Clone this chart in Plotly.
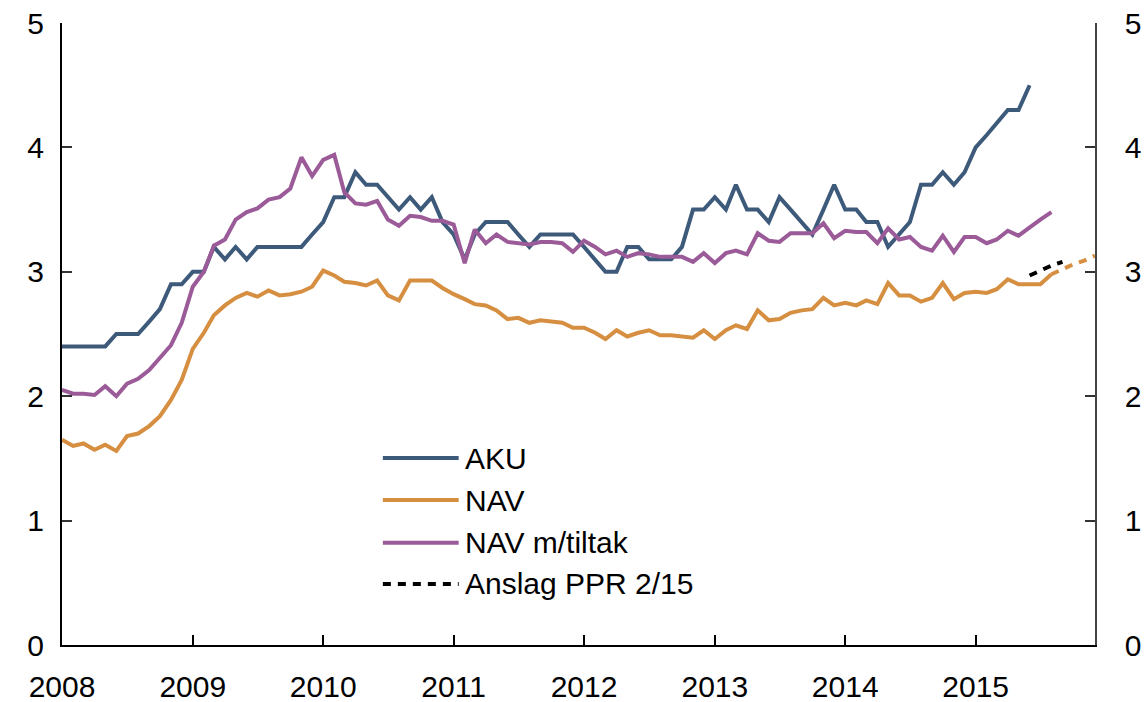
import plotly.graph_objects as go
import pandas as pd

# ---------------- data ----------------
months = pd.date_range("2008-01-01", "2015-12-01", freq="MS")

aku = [2.4, 2.4, 2.4, 2.4, 2.4, 2.5, 2.5, 2.5, 2.6, 2.7, 2.9, 2.9,
       3.0, 3.0, 3.2, 3.1, 3.2, 3.1, 3.2, 3.2, 3.2, 3.2, 3.2, 3.3,
       3.4, 3.6, 3.6, 3.8, 3.7, 3.7, 3.6, 3.5, 3.6, 3.5, 3.6, 3.4,
       3.3, 3.1, 3.3, 3.4, 3.4, 3.4, 3.3, 3.2, 3.3, 3.3, 3.3, 3.3,
       3.2, 3.1, 3.0, 3.0, 3.2, 3.2, 3.1, 3.1, 3.1, 3.2, 3.5, 3.5,
       3.6, 3.5, 3.7, 3.5, 3.5, 3.4, 3.6, 3.5, 3.4, 3.3, 3.5, 3.7,
       3.5, 3.5, 3.4, 3.4, 3.2, 3.3, 3.4, 3.7, 3.7, 3.8, 3.7, 3.8,
       4.0, 4.1, 4.2, 4.3, 4.3, 4.5]

nav = [1.65, 1.60, 1.62, 1.57, 1.61, 1.56, 1.68, 1.70, 1.76, 1.84, 1.97, 2.13,
       2.38, 2.51, 2.65, 2.73, 2.79, 2.83, 2.80, 2.85, 2.81, 2.82, 2.84, 2.88,
       3.01, 2.97, 2.92, 2.91, 2.89, 2.93, 2.81, 2.77, 2.93, 2.93, 2.93, 2.87,
       2.82, 2.78, 2.74, 2.73, 2.69, 2.62, 2.63, 2.59, 2.61, 2.60, 2.59, 2.55,
       2.55, 2.51, 2.46, 2.53, 2.48, 2.51, 2.53, 2.49, 2.49, 2.48, 2.47, 2.53,
       2.46, 2.53, 2.57, 2.54, 2.69, 2.61, 2.62, 2.67, 2.69, 2.70, 2.79, 2.73,
       2.75, 2.73, 2.77, 2.74, 2.91, 2.81, 2.81, 2.76, 2.79, 2.91, 2.78, 2.83,
       2.84, 2.83, 2.86, 2.94, 2.90, 2.90, 2.90, 2.98]

nav_tiltak = [2.05, 2.02, 2.02, 2.01, 2.08, 2.00, 2.10, 2.14, 2.21, 2.31, 2.41, 2.59,
              2.88, 3.00, 3.21, 3.26, 3.42, 3.48, 3.51, 3.58, 3.60, 3.67, 3.92, 3.77,
              3.90, 3.94, 3.64, 3.55, 3.54, 3.57, 3.42, 3.37, 3.45, 3.44, 3.41, 3.41,
              3.38, 3.07, 3.34, 3.23, 3.30, 3.24, 3.23, 3.22, 3.24, 3.24, 3.23, 3.16,
              3.25, 3.20, 3.14, 3.17, 3.12, 3.15, 3.14, 3.12, 3.12, 3.12, 3.08, 3.15,
              3.07, 3.15, 3.17, 3.14, 3.31, 3.25, 3.24, 3.31, 3.31, 3.31, 3.39, 3.27,
              3.33, 3.32, 3.32, 3.23, 3.35, 3.26, 3.28, 3.20, 3.17, 3.29, 3.16, 3.28,
              3.28, 3.23, 3.26, 3.33, 3.29, 3.36, 3.42, 3.48]

# NAV projection continuing the NAV series (Aug 2015 - Dec 2015)
nav_proj_start = 91
nav_proj = [2.98, 3.02, 3.06, 3.09, 3.13]

# Anslag PPR 2/15 (Jun 2015 - Sep 2015)
ppr_start = 89
ppr = [2.97, 3.01, 3.05, 3.08]

series_names = ["AKU", "NAV", "NAV m/tiltak", "Anslag PPR 2/15"]
series_colors = ["#3E5A7B", "#D68E40", "#9B5A98", "#000000"]

year_ticks = [f"{y}-01-01" for y in range(2008, 2016)]
year_labels = [str(y) for y in range(2008, 2016)]
y_ticks = [0, 1, 2, 3, 4, 5]

FONT = "Liberation Sans, Arial, Helvetica, sans-serif"
DASH = "8px,7px"
LW = 4

fig = go.Figure()
fig.add_trace(go.Scatter(x=months[:len(aku)], y=aku, mode="lines", name=series_names[0],
                         line=dict(color=series_colors[0], width=LW), showlegend=False))
fig.add_trace(go.Scatter(x=months[:len(nav)], y=nav, mode="lines", name=series_names[1],
                         line=dict(color=series_colors[1], width=LW), showlegend=False))
fig.add_trace(go.Scatter(x=months[:len(nav_tiltak)], y=nav_tiltak, mode="lines", name=series_names[2],
                         line=dict(color=series_colors[2], width=LW), showlegend=False))
fig.add_trace(go.Scatter(x=months[nav_proj_start:nav_proj_start + len(nav_proj)], y=nav_proj,
                         mode="lines", name="NAV anslag",
                         line=dict(color=series_colors[1], width=LW, dash=DASH), showlegend=False))
fig.add_trace(go.Scatter(x=months[ppr_start:ppr_start + len(ppr)], y=ppr, mode="lines",
                         name=series_names[3], yaxis="y2",
                         line=dict(color=series_colors[3], width=LW, dash=DASH), showlegend=False))

# manual legend (long line samples, as in the reference)
leg_x0, leg_x1, leg_tx = 0.3106, 0.384, 0.388
leg_rows = [0.3006, 0.2331, 0.1645, 0.0981]
leg_dash = ["solid", "solid", "solid", "dash"]
shapes = []
annotations = []
for name, col, yy, dsh in zip(series_names, series_colors, leg_rows, leg_dash):
    shapes.append(dict(type="line", xref="paper", yref="paper", x0=leg_x0, x1=leg_x1,
                       y0=yy, y1=yy, line=dict(color=col, width=4,
                                               dash=DASH if dsh == "dash" else "solid")))
    annotations.append(dict(xref="paper", yref="paper", x=leg_tx, y=yy, text=name,
                            showarrow=False, xanchor="left", yanchor="middle",
                            font=dict(family=FONT, size=30, color="#000000")))

fig.update_layout(
    width=1148, height=702,
    margin=dict(l=62, r=53, t=23, b=57, autoexpand=False),
    paper_bgcolor="white", plot_bgcolor="white",
    font=dict(family=FONT, size=30, color="#000000"),
    shapes=shapes, annotations=annotations,
    showlegend=False,
    xaxis=dict(type="date", range=["2008-01-01", "2015-12-01"],
               tickvals=year_ticks, ticktext=year_labels, automargin=False,
               ticks="inside", ticklen=10, tickwidth=1.5, tickcolor="#000000",
               showline=True, linecolor="#000000", linewidth=2,
               showgrid=False, zeroline=False,
               tickfont=dict(family=FONT, size=30, color="#000000"),
               ticklabelstandoff=14),
    yaxis=dict(range=[0, 5], tickvals=y_ticks, automargin=False,
               ticks="inside", ticklen=10, tickwidth=1.5, tickcolor="#333333",
               showline=True, linecolor="#000000", linewidth=2,
               showgrid=False, zeroline=False,
               tickfont=dict(family=FONT, size=30, color="#000000"),
               ticklabelstandoff=10),
    yaxis2=dict(range=[0, 5], tickvals=y_ticks, overlaying="y", side="right", automargin=False,
                ticks="inside", ticklen=10, tickwidth=1.5, tickcolor="#333333",
                showline=True, linecolor="#444444", linewidth=1.5,
                showgrid=False, zeroline=False,
                tickfont=dict(family=FONT, size=30, color="#000000"),
                ticklabelstandoff=22),
)

fig.write_html("out.html", config={"displayModeBar": False},
               post_script="document.body.style.margin='0';document.body.style.overflow='hidden';")
